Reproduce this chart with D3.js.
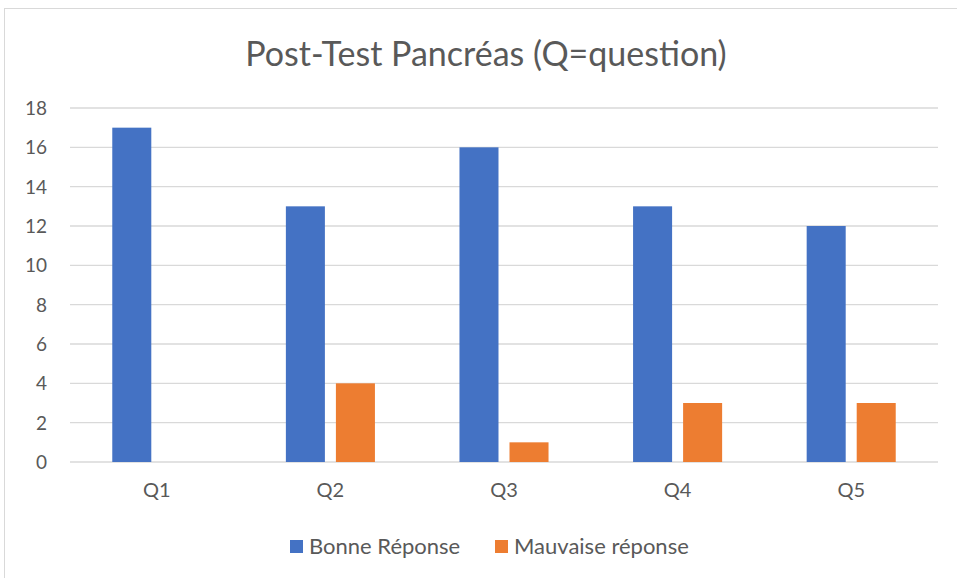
<!DOCTYPE html>
<html>
<head>
<meta charset="utf-8">
<script src="https://cdn.jsdelivr.net/npm/d3@7"></script>
<style>
  body { margin: 0; background: #fff; }
  text { font-family: Lato, "Open Sans", sans-serif; fill: #595959; }
</style>
</head>
<body>
<div id="chart"></div>
<script>
const categories = ["Q1", "Q2", "Q3", "Q4", "Q5"]
const seriesNames = ["Bonne Réponse", "Mauvaise réponse"]
const bonne = [17, 13, 16, 13, 12]
const mauvaise = [0, 4, 1, 3, 3]
const yTicks = [0, 2, 4, 6, 8, 10, 12, 14, 16, 18]
const colors = ["#4472C4", "#ED7D31"]

const rows = categories.map((c, i) => ({cat: c, values: [bonne[i], mauvaise[i]]}))

const dimensions = {
  width: 957,
  height: 578,
  margin: {top: 108, right: 19, bottom: 116, left: 70},
}
dimensions.boundedWidth = dimensions.width - dimensions.margin.left - dimensions.margin.right
dimensions.boundedHeight = dimensions.height - dimensions.margin.top - dimensions.margin.bottom

const svg = d3.select("#chart").append("svg")
  .attr("width", dimensions.width)
  .attr("height", dimensions.height)

// chart frame
svg.append("rect")
  .attr("x", 4.5).attr("y", 8.5)
  .attr("width", 960).attr("height", 580)
  .attr("fill", "none")
  .attr("stroke", "#d9d9d9")

svg.append("text")
  .attr("x", 486).attr("y", 66)
  .attr("text-anchor", "middle")
  .style("font-size", "34px")
  .text("Post-Test Pancréas (Q=question)")

const bounds = svg.append("g")
  .attr("transform", `translate(${dimensions.margin.left},${dimensions.margin.top})`)

const x0 = d3.scaleBand()
  .domain(categories)
  .range([0, dimensions.boundedWidth])
  .paddingInner(0.487)
  .paddingOuter(0.2435)

const x1 = d3.scaleBand()
  .domain(d3.range(seriesNames.length))
  .range([0, x0.bandwidth()])
  .paddingInner(0.22)

const y = d3.scaleLinear()
  .domain([0, 18])
  .range([dimensions.boundedHeight, 0])

// gridlines
bounds.append("g")
  .selectAll("line")
  .data(yTicks)
  .join("line")
    .attr("x1", 0).attr("x2", dimensions.boundedWidth)
    .attr("y1", d => y(d)).attr("y2", d => y(d))
    .attr("stroke", "#d9d9d9")
    .attr("stroke-width", 1.3)

const yAxis = d3.axisLeft(y).tickValues(yTicks).tickSize(0).tickPadding(23)
const yAxisG = bounds.append("g").call(yAxis)
yAxisG.select(".domain").remove()
yAxisG.selectAll("text")
  .style("font-size", "19px")
  .style("font-family", "Lato, sans-serif")
  .attr("fill", "#595959")
  .attr("dy", "0.35em")

const groups = bounds.append("g")
  .selectAll("g")
  .data(rows)
  .join("g")
    .attr("transform", d => `translate(${x0(d.cat)},0)`)

groups.selectAll("rect")
  .data(d => d.values.map((v, i) => ({v, i})))
  .join("rect")
    .attr("x", d => x1(d.i))
    .attr("width", x1.bandwidth())
    .attr("y", d => y(d.v))
    .attr("height", d => y(0) - y(d.v))
    .attr("fill", d => colors[d.i])

const xAxis = d3.axisBottom(x0).tickSize(0).tickPadding(21)
const xAxisG = bounds.append("g")
  .attr("transform", `translate(0,${dimensions.boundedHeight})`)
  .call(xAxis)
xAxisG.select(".domain").remove()
xAxisG.selectAll("text")
  .style("font-size", "20px")
  .style("font-family", "Lato, sans-serif")
  .attr("fill", "#595959")

// legend
const legendX = [290, 495]
const legend = svg.append("g")
  .selectAll("g")
  .data(seriesNames)
  .join("g")
    .attr("transform", (d, i) => `translate(${legendX[i]},540)`)
legend.append("rect")
  .attr("width", 13).attr("height", 13)
  .attr("fill", (d, i) => colors[i])
legend.append("text")
  .attr("x", 19).attr("y", 13.5)
  .style("font-size", "22px")
  .text(d => d)
</script>
</body>
</html>
